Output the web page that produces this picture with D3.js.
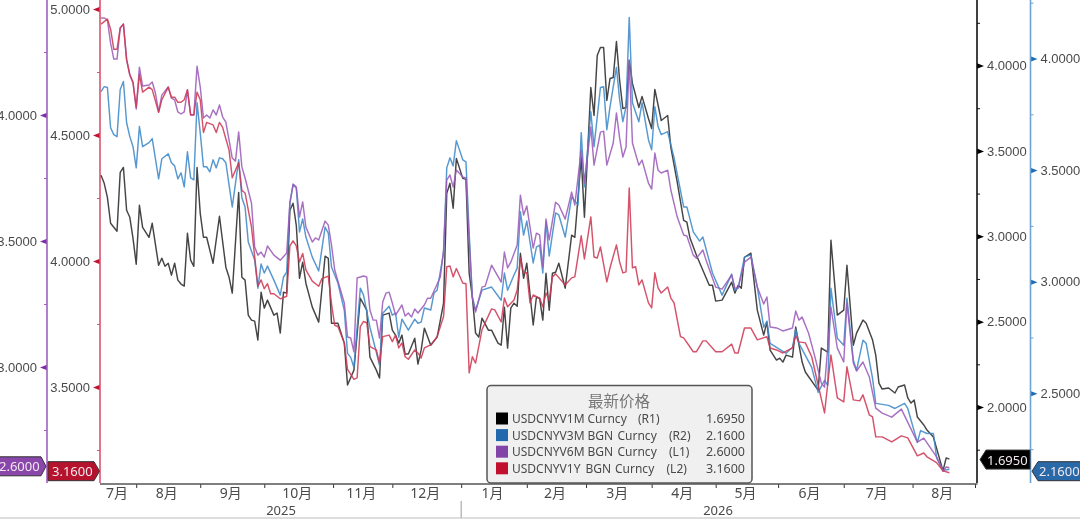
<!DOCTYPE html>
<html><head><meta charset="utf-8">
<script src="https://cdnjs.cloudflare.com/ajax/libs/d3/7.8.5/d3.min.js"></script>
<style>
html,body{margin:0;padding:0;background:#fff;overflow:hidden}
svg{display:block;font-family:"Noto Sans","Noto Sans CJK SC",sans-serif;filter:blur(.35px)}
text{fill:#4a4a4a}
</style></head><body><svg id="c" width="1080" height="519"></svg>
<script>
// [trading day index, implied volatility]
const usdcnyv1m=[[0,3.357],[1,3.31],[2,3.228],[3,3.076],[5,3.029],[6,3.374],[7,3.403],[8,3.152],[9,3.111],[10,2.988],[11,2.836],[12,3.181],[13,3.052],[15,2.994],[16,3.076],[18,2.83],[19,2.871],[20,2.824],[21,2.842],[22,2.772],[23,2.842],[24,2.743],[25,2.72],[26,2.708],[27,3.017],[28,2.86],[29,2.824],[30,3.403],[31,3.134],[32,2.994],[33,2.994],[35,2.842],[37,3.117],[39,2.819],[40,2.76],[41,2.667],[43,3.257],[44,2.76],[45,2.743],[46,2.538],[47,2.509],[48,2.503],[49,2.392],[50,2.672],[51,2.579],[52,2.626],[54,2.538],[55,2.55],[56,2.433],[57,2.672],[58,2.667],[59,3.152],[60,3.193],[61,3.064],[62,2.754],[63,2.848],[64,2.725],[66,2.585],[68,2.497],[70,2.883],[71,2.871],[72,2.491],[73,2.491],[74,2.491],[76,2.374],[77,2.129],[79,2.216],[81,2.637],[83,2.567],[84,2.292],[86,2.216],[87,2.17],[88,2.538],[90,2.55],[91,2.45],[92,2.421],[93,2.374],[94,2.421],[95,2.31],[96,2.31],[98,2.403],[99,2.251],[100,2.333],[101,2.462],[103,2.362],[105,2.409],[107,2.608],[108,3.251],[109,3.31],[110,3.164],[111,3.456],[113,3.339],[114,3.333],[115,2.784],[116,2.643],[117,2.433],[118,2.409],[119,2.52],[121,2.45],[122,2.45],[124,2.374],[125,2.362],[126,2.585],[127,2.345],[128,2.579],[129,2.608],[130,2.59],[131,2.9],[132,2.754],[133,2.842],[135,2.48],[136,2.643],[137,2.637],[138,2.509],[139,2.783],[140,2.567],[141,2.783],[142,2.789],[143,2.842],[145,2.696],[147,3.006],[148,2.994],[150,3.462],[151,3.111],[153,3.871],[154,3.707],[155,4.058],[156,4.105],[157,4.105],[158,3.795],[159,3.924],[160,3.93],[161,4.14],[162,3.912],[163,3.748],[164,3.754],[165,4.029],[166,3.895],[168,3.754],[169,3.819],[171,3.69],[172,3.631],[173,3.86],[175,3.678],[177,3.707],[178,3.52],[180,3.316],[182,3.093],[183,3.082],[184,2.988],[186,2.889],[188,2.801],[190,2.713],[191,2.713],[192,2.62],[194,2.626],[197,2.731],[198,2.667],[199,2.713],[200,2.696],[201,2.877],[203,2.901],[205,2.567],[207,2.421],[208,2.497],[209,2.333],[211,2.275],[212,2.286],[213,2.263],[214,2.304],[216,2.292],[217,2.468],[219,2.263],[220,2.205],[224,2.099],[225,2.345],[227,2.322],[228,2.977],[230,2.538],[232,2.567],[233,2.83],[235,2.362],[236,2.433],[238,2.509],[239,2.491],[241,2.392],[242,2.304],[243,2.14],[244,2.105],[246,2.111],[248,2.082],[249,2.117],[251,2.129],[252,2.053],[253,2.023],[254,2.041],[255,1.941],[257,1.895],[258,1.865],[260,1.824],[263,1.626],[264,1.702],[265,1.695]];
const usdcnyv3m=[[0,3.852],[1,3.874],[2,3.87],[3,3.69],[4,3.659],[5,3.65],[6,3.861],[7,3.897],[8,3.712],[9,3.65],[10,3.605],[11,3.51],[12,3.695],[13,3.605],[15,3.623],[16,3.641],[18,3.461],[19,3.551],[21,3.573],[22,3.533],[23,3.519],[24,3.461],[25,3.488],[26,3.425],[27,3.582],[28,3.465],[29,3.456],[30,3.802],[31,3.667],[32,3.515],[33,3.515],[34,3.492],[35,3.546],[36,3.51],[37,3.555],[38,3.551],[39,3.533],[41,3.335],[43,3.546],[44,3.376],[45,3.335],[46,3.178],[48,3.097],[49,2.971],[50,3.079],[51,3.039],[52,3.07],[54,3.007],[56,2.94],[57,3.021],[58,3.043],[59,3.353],[60,3.434],[61,3.42],[62,3.223],[63,3.281],[64,3.2],[66,3.11],[68,3.048],[70,3.245],[71,3.218],[72,3.066],[74,2.994],[76,2.872],[77,2.679],[78,2.661],[79,2.616],[81,2.971],[82,2.94],[84,2.796],[86,2.684],[87,2.625],[88,2.859],[90,2.89],[91,2.85],[92,2.859],[93,2.751],[94,2.832],[96,2.783],[98,2.832],[99,2.814],[100,2.819],[101,2.882],[103,2.873],[104,2.949],[105,2.962],[107,3.129],[108,3.51],[109,3.555],[110,3.519],[111,3.632],[113,3.546],[114,3.537],[115,3.218],[116,2.931],[117,2.872],[119,2.962],[122,2.976],[125,2.917],[126,3.039],[127,2.962],[129,3.03],[130,3.061],[131,3.313],[132,3.209],[133,3.272],[135,3.084],[136,3.155],[137,3.164],[138,3.039],[139,3.268],[140,3.115],[142,3.308],[143,3.299],[145,3.2],[147,3.38],[149,3.344],[150,3.668],[151,3.425],[153,3.762],[154,3.605],[156,3.87],[157,3.874],[158,3.681],[159,3.784],[161,3.96],[162,3.816],[163,3.717],[164,3.784],[165,4.184],[166,3.802],[168,3.717],[169,3.802],[171,3.636],[172,3.591],[173,3.784],[174,3.695],[175,3.659],[177,3.672],[179,3.555],[182,3.335],[183,3.335],[185,3.223],[187,3.182],[188,3.2],[191,3.039],[194,2.94],[197,3.034],[198,2.962],[199,2.971],[201,3.11],[203,3.12],[205,2.976],[207,2.796],[208,2.823],[209,2.724],[211,2.706],[214,2.679],[216,2.706],[217,2.787],[218,2.724],[222,2.616],[224,2.504],[226,2.558],[227,2.536],[228,2.971],[230,2.747],[232,2.715],[233,2.926],[235,2.648],[236,2.603],[238,2.738],[239,2.724],[241,2.567],[242,2.455],[246,2.446],[248,2.432],[251,2.455],[252,2.432],[255,2.28],[256,2.333],[258,2.32],[260,2.32],[261,2.212],[263,2.154],[265,2.16]];
const usdcnyv6m=[[0,4.385],[1,4.385],[2,4.377],[3,4.285],[4,4.222],[5,4.222],[6,4.345],[7,4.361],[8,4.218],[9,4.158],[10,4.127],[11,4.024],[12,4.19],[13,4.115],[15,4.119],[16,4.131],[17,4.087],[18,4.012],[19,4.079],[21,4.111],[22,4.067],[23,4.06],[24,4.012],[25,4.004],[26,4.012],[27,4.099],[28,4.0],[29,4.0],[30,4.194],[31,4.111],[32,3.988],[33,4.0],[34,3.988],[35,4.02],[36,4.0],[37,4.04],[38,3.992],[39,3.972],[41,3.829],[42,3.817],[43,3.933],[44,3.794],[45,3.75],[47,3.651],[48,3.476],[49,3.444],[50,3.456],[51,3.436],[52,3.48],[54,3.444],[56,3.424],[58,3.452],[59,3.651],[60,3.726],[61,3.714],[62,3.595],[63,3.655],[64,3.555],[66,3.496],[67,3.512],[68,3.504],[70,3.579],[71,3.563],[72,3.484],[73,3.385],[76,3.254],[77,3.119],[78,3.115],[79,3.06],[80,3.353],[82,3.361],[83,3.357],[84,3.226],[85,3.186],[86,3.186],[87,3.115],[88,3.258],[89,3.293],[90,3.297],[91,3.254],[92,3.206],[94,3.246],[95,3.202],[96,3.214],[97,3.198],[98,3.23],[99,3.214],[101,3.246],[102,3.273],[103,3.273],[106,3.357],[107,3.464],[108,3.742],[109,3.762],[110,3.714],[111,3.782],[113,3.754],[114,3.75],[115,3.504],[116,3.273],[117,3.218],[119,3.317],[120,3.321],[122,3.404],[125,3.337],[126,3.456],[127,3.393],[128,3.416],[130,3.484],[131,3.682],[132,3.603],[133,3.639],[135,3.472],[136,3.531],[137,3.524],[138,3.397],[139,3.587],[140,3.504],[142,3.654],[143,3.643],[145,3.587],[147,3.694],[148,3.643],[150,3.861],[151,3.73],[153,3.952],[154,3.801],[156,3.932],[157,3.936],[158,3.801],[160,3.889],[161,4.008],[162,3.908],[163,3.833],[164,3.873],[165,4.218],[166,3.889],[168,3.801],[169,3.821],[171,3.73],[172,3.706],[173,3.849],[174,3.781],[175,3.77],[177,3.781],[178,3.702],[180,3.595],[182,3.524],[183,3.52],[185,3.444],[186,3.432],[188,3.464],[189,3.424],[192,3.317],[194,3.309],[197,3.365],[198,3.313],[199,3.313],[201,3.416],[203,3.436],[205,3.317],[207,3.25],[208,3.278],[209,3.159],[211,3.155],[213,3.143],[216,3.155],[217,3.222],[218,3.186],[219,3.198],[221,3.135],[223,3.04],[225,2.936],[226,2.92],[228,3.238],[230,3.075],[232,3.02],[233,3.254],[235,3.016],[236,2.984],[238,3.02],[240,2.96],[242,2.837],[244,2.817],[247,2.801],[250,2.833],[255,2.702],[257,2.718],[261,2.643],[263,2.587],[264,2.603],[265,2.6]];
const usdcnyv1y=[[0,4.94],[1,4.95],[2,4.96],[3,4.92],[4,4.84],[5,4.84],[6,4.925],[7,4.94],[8,4.8],[9,4.74],[10,4.71],[11,4.61],[12,4.74],[13,4.67],[15,4.69],[16,4.68],[18,4.59],[19,4.64],[21,4.69],[22,4.65],[23,4.65],[24,4.63],[25,4.63],[26,4.64],[27,4.68],[28,4.58],[29,4.58],[30,4.67],[31,4.64],[32,4.51],[33,4.55],[35,4.54],[36,4.51],[37,4.55],[38,4.53],[40,4.44],[41,4.33],[43,4.39],[44,4.28],[45,4.27],[47,4.135],[49,3.9],[50,3.925],[51,3.89],[52,3.91],[53,3.87],[54,3.87],[56,3.85],[58,3.86],[59,4.06],[60,4.08],[61,4.06],[62,3.996],[63,4.03],[64,3.965],[66,3.92],[68,3.9],[69,3.93],[71,3.94],[72,3.83],[73,3.745],[74,3.74],[76,3.675],[77,3.57],[79,3.53],[80,3.536],[81,3.74],[82,3.76],[83,3.755],[84,3.66],[86,3.647],[87,3.595],[88,3.7],[90,3.706],[91,3.68],[92,3.706],[93,3.655],[94,3.675],[95,3.62],[96,3.61],[98,3.647],[99,3.635],[100,3.615],[101,3.655],[103,3.667],[105,3.7],[107,3.78],[108,3.977],[109,3.98],[110,3.937],[111,3.97],[113,3.913],[114,3.91],[115,3.556],[116,3.62],[117,3.595],[119,3.727],[122,3.81],[123,3.806],[125,3.758],[126,3.853],[127,3.818],[129,3.845],[130,3.885],[131,4.012],[132,3.953],[133,3.953],[134,3.834],[135,3.865],[137,3.853],[138,3.818],[139,3.873],[140,3.845],[141,3.937],[142,3.949],[145,3.905],[147,3.933],[148,3.937],[150,4.1],[151,4.008],[153,4.175],[154,4.016],[155,4.012],[156,4.056],[158,3.917],[159,3.973],[161,4.064],[162,3.996],[163,3.953],[164,3.957],[165,4.29],[166,3.973],[167,3.977],[168,3.905],[169,3.925],[171,3.834],[172,3.814],[173,3.953],[174,3.893],[175,3.873],[177,3.897],[178,3.853],[179,3.834],[181,3.7],[182,3.695],[185,3.64],[186,3.64],[188,3.683],[189,3.683],[192,3.64],[194,3.64],[197,3.67],[198,3.635],[199,3.635],[201,3.734],[203,3.734],[205,3.687],[208,3.7],[209,3.655],[211,3.647],[213,3.635],[216,3.655],[217,3.703],[218,3.679],[220,3.675],[222,3.62],[224,3.508],[226,3.397],[228,3.627],[230,3.457],[232,3.441],[233,3.58],[235,3.449],[237,3.445],[238,3.469],[240,3.389],[241,3.381],[242,3.302],[244,3.302],[247,3.282],[250,3.306],[252,3.298],[255,3.227],[257,3.238],[258,3.223],[261,3.2],[263,3.167],[265,3.16]];

const monthTicks=[11,31,51,72.5,91,112.5,133,151.5,172,192,211.5,232,253.5,273];
const monthLabels=["7月","8月","9月","10月","11月","12月","1月","2月","3月","4月","5月","6月","7月","8月"];
const yearLabels=["2025","2026"];
const yearBreakDay=112.5;
const legendTitle="最新价格";
const legendNames=[["USDCNYV1M","Curncy","","(R1)"],["USDCNYV3M","BGN","Curncy","(R2)"],["USDCNYV6M","BGN","Curncy","(L1)"],["USDCNYV1Y","BGN","Curncy","(L2)"]];
const lastValues=["1.6950","2.1600","2.6000","3.1600"];

const svg=d3.select("#c");
const x=d3.scaleLinear().domain([0,273]).range([101,975]);
const yR1=d3.scaleLinear().domain([2,4]).range([407,65.5]);
const yR2=d3.scaleLinear().domain([2.5,4]).range([393.3,58.5]);
const yL1=d3.scaleLinear().domain([3,4]).range([367,115]);
const yL2=d3.scaleLinear().domain([3.5,5]).range([387,9]);
const fmt=d3.format(".4f");

const axes=[
 {s:yL1,px:47,side:"l",maj:[3,3.5,4],min:[2.75,3.25,3.75,4.25],line:"#9d62bd",mark:"#7c2fa5"},
 {s:yL2,px:100,side:"l",maj:[3.5,4,4.5,5],min:[3.25,3.75,4.25,4.75],line:"#d95570",mark:"#c40f2e"},
 {s:yR1,px:977,side:"r",maj:[2,2.5,3,3.5,4],min:[1.75,2.25,2.75,3.25,3.75,4.25],line:"#111",mark:"#000"},
 {s:yR2,px:1030.5,side:"r",maj:[2.5,3,3.5,4],min:[2.25,2.75,3.25,3.75,4.25],line:"#6ba3d6",mark:"#1f6cb5"}
];
axes.forEach(a=>{
  const maker=a.side==="l"?d3.axisLeft:d3.axisRight;
  const g=svg.append("g").attr("transform",`translate(${a.px},0)`);
  const mn=g.append("g").call(maker(a.s).tickValues(a.min).tickSize(3).tickFormat(""));
  mn.select(".domain").remove();
  mn.selectAll("line").attr("stroke",a.line);
  const mj=g.append("g").call(maker(a.s).tickValues(a.maj).tickSize(0).tickPadding(10).tickFormat(fmt));
  mj.select(".domain").remove();
  mj.selectAll("text").attr("font-size",13).attr("font-family",null).style("fill","#4a4a4a");
  const dir=a.side==="l"?-1:1;
  mj.selectAll(".tick").append("path").attr("d",`M0,-2.8L${dir*7},0L0,2.8Z`).attr("fill",a.mark);
  g.append("line").attr("y1",0).attr("y2",483).attr("stroke",a.line).attr("stroke-width",1.6);
});

// time axis
const xg=svg.append("g").attr("transform","translate(0,484)");
const xa=xg.call(d3.axisBottom(x).tickValues(monthTicks).tickSize(4).tickFormat(""));
xa.select(".domain").remove();
xa.selectAll("line").attr("stroke","#333");
svg.append("line").attr("x1",100).attr("x2",977.5).attr("y1",484).attr("y2",484).attr("stroke","#555").attr("stroke-width",1.6);
const edges=[x(0)].concat(monthTicks.map(x));
svg.append("g").selectAll("text").data(monthLabels).join("text")
  .attr("x",(d,i)=>(edges[i]+edges[i+1])/2-1.5).attr("y",498).attr("text-anchor","middle")
  .attr("font-size",14).text(d=>d);
svg.append("line").attr("x1",x(yearBreakDay)).attr("x2",x(yearBreakDay)).attr("y1",501).attr("y2",518).attr("stroke","#999");
svg.append("text").attr("x",281).attr("y",515).attr("text-anchor","middle").attr("font-size",13).text(yearLabels[0]);
svg.append("text").attr("x",718).attr("y",515).attr("text-anchor","middle").attr("font-size",13).text(yearLabels[1]);
svg.append("line").attr("x1",0).attr("x2",1080).attr("y1",518).attr("y2",518).attr("stroke","#bbb");

// series
const series=[
 {d:usdcnyv1m,s:yR1,c:"#2b2b2b"},
 {d:usdcnyv3m,s:yR2,c:"#3f8ac8"},
 {d:usdcnyv6m,s:yL1,c:"#9c5cba"},
 {d:usdcnyv1y,s:yL2,c:"#cf3a57"}
];
series.forEach(o=>{
  const ln=d3.line().x(p=>x(p[0])).y(p=>o.s(p[1]));
  svg.append("path").attr("d",ln(o.d)).attr("fill","none").attr("stroke",o.c)
    .attr("stroke-width",1.45).attr("stroke-linejoin","round").attr("stroke-opacity",.88);
});

// legend
const lg=svg.append("g");
lg.append("rect").attr("x",487).attr("y",385.5).attr("width",265).attr("height",97.5).attr("rx",4)
  .attr("fill","#f0f0f0").attr("stroke","#555").attr("stroke-width",1.5);
lg.append("text").attr("x",619).attr("y",407).attr("text-anchor","middle").attr("font-size",15.5)
  .attr("font-family","'Noto Sans CJK SC'").style("fill","#777").text(legendTitle);
const swatch=["#000000","#2268ad","#8344a8","#c10f2e"];
const partX=[[512,587.5,null,638],[512,587.5,617.5,669],[512,587.5,617.5,669],[512,585.5,615,666.5]];
legendNames.forEach((row,i)=>{
  const cy=418.5+i*16.6;
  lg.append("rect").attr("x",496).attr("y",cy-6).attr("width",12).attr("height",12).attr("fill",swatch[i]);
  row.forEach((t,j)=>{ if(t) lg.append("text").attr("x",partX[i][j]).attr("y",cy+4.5).attr("font-size",12).text(t); });
  lg.append("text").attr("x",745).attr("y",cy+4.5).attr("text-anchor","end").attr("font-size",12.5).text(lastValues[i]);
});

// last-value tags
const tag=(pathD,fill,tx,ty,t)=>{
  svg.append("path").attr("d",pathD).attr("fill",fill).attr("stroke","#333").attr("stroke-width",1);
  svg.append("text").attr("x",tx).attr("y",ty).attr("font-size",13).style("fill","#f0e8ee").text(t);
};
const yp=yL1(2.6)-1.5, yr=yL2(3.16)-1.5, yk=yR1(1.695)+.5, yb=yR2(2.16)+2;
tag(`M-2,${yp-9.5}H41L46,${yp}L41,${yp+9.5}H-2Z`,"#8a46ab",-1,yp+5,lastValues[2]);
tag(`M48,${yr-9.5}H94L99.5,${yr}L94,${yr+9.5}H48Z`,"#b5122e",52,yr+5,lastValues[3]);
tag(`M980,${yk}L986,${yk-9.5}H1030V${yk+9.5}H986Z`,"#000",987,yk+5,lastValues[0]);
tag(`M1032,${yb}L1038,${yb-9.5}H1082V${yb+9.5}H1038Z`,"#2a69a8",1039,yb+5,lastValues[1]);
</script></body></html>
